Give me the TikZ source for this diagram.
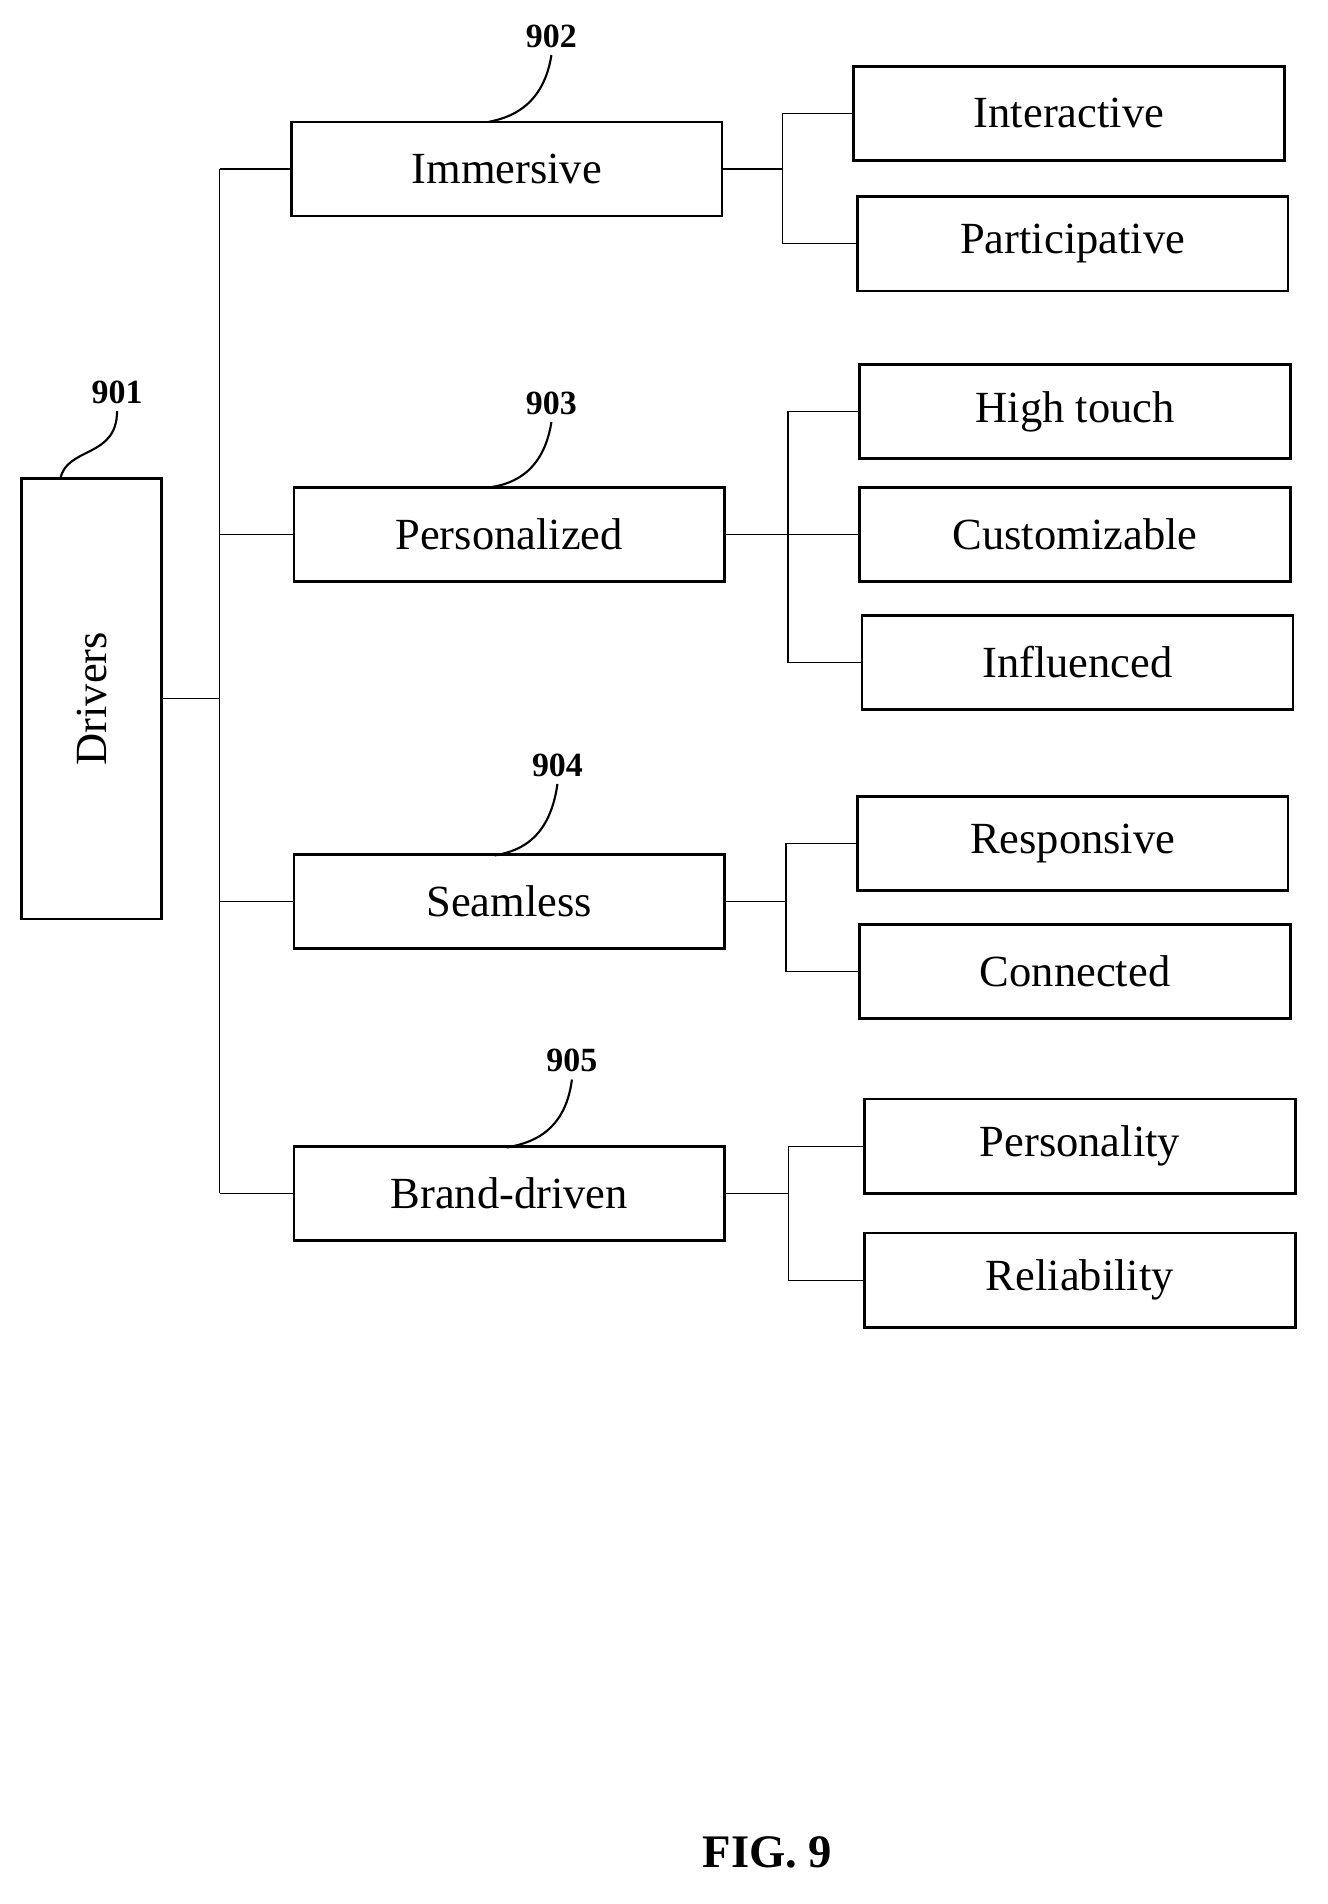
\documentclass[tikz,border=0pt]{standalone}
\usepackage{fontspec}
\setmainfont{Liberation Serif}
\begin{document}
\begin{tikzpicture}[x=0.02cm,y=-0.02cm,
  box/.style={draw,line width=1.2pt,minimum width=7.14cm,minimum height=1.56cm,inner sep=0pt,font=\fontsize{21}{25}\selectfont},
  lbl/.style={font=\bfseries\fontsize{16}{19}\selectfont},
  ln/.style={line width=0.6pt},
  lead/.style={line width=1pt}]
\useasboundingbox (0,0) rectangle (1100,1578);
\node[draw,line width=1.2pt,minimum width=2.32cm,minimum height=7.3cm,inner sep=0pt] (drv) at (76,579) {};
\node[rotate=90,font=\fontsize{21}{25}\selectfont] (drvt) at (drv.center) {Drivers};
\node[box] (imm) at (420,140) {Immersive};
\node[box] (per) at (422,443) {Personalized};
\node[box] (sea) at (422,747) {Seamless};
\node[box] (brd) at (422,989) {Brand-driven};
\node[box] (int) at (886,94) {Interactive};
\node[box] (par) at (889,202) {Participative};
\node[box] (hig) at (891,341) {High touch};
\node[box] (cus) at (891,443) {Customizable};
\node[box] (inf) at (893,549) {Influenced};
\node[box] (res) at (889,699) {Responsive};
\node[box] (con) at (891,805) {Connected};
\node[box] (pty) at (895,950) {Personality};
\node[box] (rel) at (895,1061) {Reliability};
\coordinate (t) at (182,579);
\draw[ln] (drv.east) -- (t);
\draw[ln] (imm.west -| t) -- (brd.west -| t);
\foreach \n in {imm,per,sea,brd} \draw[ln] (\n.west) -- (\n.west -| t);
\draw[ln] (imm.east) -- ++(49,0) coordinate (j1);
\draw[ln] (int.west) -| (j1) |- (par.west);
\draw[ln] (per.east) -- (cus.west);
\coordinate (j2) at (653,443);
\draw[ln] (hig.west) -| (j2) |- (inf.west);
\draw[ln] (sea.east) -- ++(50,0) coordinate (j3);
\draw[ln] (res.west) -| (j3) |- (con.west);
\draw[ln] (brd.east) -- ++(52,0) coordinate (j4);
\draw[ln] (pty.west) -| (j4) |- (rel.west);
\node[lbl] (l901) at (97,325) {901};
\node[lbl] (l902) at (457,30) {902};
\node[lbl] (l903) at (457,334) {903};
\node[lbl] (l904) at (462,634) {904};
\node[lbl] (l905) at (474,879) {905};
\draw[lead] (l901.south) .. controls (97,380) and (55,370) .. (50,397);
\draw[lead] (l902.south) .. controls (450,90) and (420,98) .. (405,101);
\draw[lead] (l903.south) .. controls (450,395) and (420,402) .. (405,404);
\draw[lead] (l904.south) .. controls (455,700) and (425,706) .. (410,709);
\draw[lead] (l905.south) .. controls (468,942) and (435,948) .. (420,951);
\node[font=\bfseries\fontsize{22}{26}\selectfont] (fig) at (636,1535) {FIG. 9};
\end{tikzpicture}
\end{document}
